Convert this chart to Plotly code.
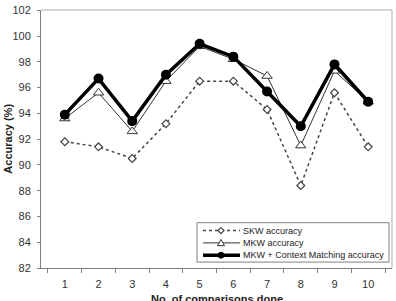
import plotly.graph_objects as go

categories = ["1", "2", "3", "4", "5", "6", "7", "8", "9", "10"]
skw = [91.8, 91.4, 90.5, 93.2, 96.5, 96.5, 94.3, 88.4, 95.6, 91.4]
mkw = [93.6, 95.6, 92.6, 96.5, 99.2, 98.2, 96.9, 91.5, 97.3, 94.9]
mkw_ctx = [93.9, 96.7, 93.4, 97.0, 99.4, 98.4, 95.7, 93.0, 97.8, 94.9]
series_names = ["SKW accuracy", "MKW accuracy", "MKW + Context Matching accuracy"]
y_ticks = [82, 84, 86, 88, 90, 92, 94, 96, 98, 100, 102]

FONT = "Liberation Sans, Arial, sans-serif"
W, H = 396, 301
ML, MR, MT, MB = 41, 4, 6, 33
PW, PH = W - ML - MR, H - MT - MB


def px(x):
    return (x - ML) / PW


def py(y):
    return (H - MB - y) / PH


fig = go.Figure()
fig.add_trace(go.Scatter(
    x=categories, y=skw, mode="lines+markers", name=series_names[0],
    line=dict(color="#444444", width=1.5, dash="dot"),
    marker=dict(symbol="diamond", size=6, color="white", line=dict(color="#444444", width=1.2)),
))
fig.add_trace(go.Scatter(
    x=categories, y=mkw, mode="lines+markers", name=series_names[1],
    line=dict(color="#333333", width=1),
    marker=dict(symbol="triangle-up", size=9, color="white", line=dict(color="#333333", width=1)),
))
fig.add_trace(go.Scatter(
    x=categories, y=mkw_ctx, mode="lines+markers", name=series_names[2],
    line=dict(color="black", width=3.5),
    marker=dict(symbol="circle", size=10, color="black"),
))

# hand-made legend (compact, like the original)
lx0, lx1, ly0, ly1 = 197, 389, 222, 262
rows = [230, 242.5, 255]
s0, s1, sm, tx = 203, 240, 221, 241
shapes = [
    dict(type="line", xref="paper", yref="paper", x0=0, x1=1, y0=1, y1=1,
         line=dict(color="#c8c8c8", width=1.5)),
    dict(type="line", xref="paper", yref="paper", x0=1, x1=1, y0=0, y1=1,
         line=dict(color="#c8c8c8", width=1.5)),
    dict(type="rect", xref="paper", yref="paper", x0=px(lx0), x1=px(lx1), y0=py(ly1), y1=py(ly0),
         line=dict(color="#808080", width=1), fillcolor="white", layer="above"),
    dict(type="line", xref="paper", yref="paper", x0=px(s0), x1=px(s1), y0=py(rows[0]), y1=py(rows[0]),
         line=dict(color="#444444", width=1.5, dash="dot"), layer="above"),
    dict(type="line", xref="paper", yref="paper", x0=px(s0), x1=px(s1), y0=py(rows[1]), y1=py(rows[1]),
         line=dict(color="#333333", width=1), layer="above"),
    dict(type="line", xref="paper", yref="paper", x0=px(s0), x1=px(s1), y0=py(rows[2]), y1=py(rows[2]),
         line=dict(color="black", width=3.5), layer="above"),
]


def diamond(cx, cy, r):
    return "M %f %f L %f %f L %f %f L %f %f Z" % (
        px(cx), py(cy - r), px(cx + r), py(cy), px(cx), py(cy + r), px(cx - r), py(cy))


def triangle(cx, cy, r):
    return "M %f %f L %f %f L %f %f Z" % (
        px(cx), py(cy - r), px(cx + r), py(cy + r * 0.8), px(cx - r), py(cy + r * 0.8))


shapes += [
    dict(type="path", xref="paper", yref="paper", path=diamond(sm, rows[0], 3),
         line=dict(color="#444444", width=1.2), fillcolor="white", layer="above"),
    dict(type="path", xref="paper", yref="paper", path=triangle(sm, rows[1], 3.5),
         line=dict(color="#333333", width=1), fillcolor="white", layer="above"),
    dict(type="circle", xref="paper", yref="paper", x0=px(sm - 3), x1=px(sm + 3),
         y0=py(rows[2] + 3), y1=py(rows[2] - 3),
         line=dict(color="black", width=1), fillcolor="black", layer="above"),
]

annotations = [
    dict(text="<b>Accuracy (%)</b>", xref="paper", yref="paper", x=-0.095, y=0.5,
         xanchor="center", yanchor="middle", textangle=-90, showarrow=False,
         font=dict(size=11, color="#222222", family=FONT)),
    dict(text="<b>No. of comparisons done</b>", xref="paper", yref="paper", x=0.5, y=-0.09,
         xanchor="center", yanchor="top", showarrow=False,
         font=dict(size=11, color="#222222", family=FONT)),
]
for name, ry in zip(series_names, rows):
    annotations.append(dict(text=name, xref="paper", yref="paper", x=px(tx), y=py(ry),
                            xanchor="left", yanchor="middle", showarrow=False,
                            font=dict(size=9, color="#222222", family=FONT)))

fig.update_layout(
    width=W, height=H,
    margin=dict(l=ML, r=MR, t=MT, b=MB),
    paper_bgcolor="white", plot_bgcolor="white",
    font=dict(family=FONT, size=11, color="#333333"),
    showlegend=False,
    xaxis=dict(
        type="category", showgrid=False, zeroline=False,
        showline=True, linecolor="#808080", linewidth=1,
        ticks="outside", tickson="boundaries", ticklen=4, tickcolor="#808080",
        tickfont=dict(size=11, color="#333333"), ticklabelstandoff=6,
    ),
    yaxis=dict(
        range=[82, 102.02], tickvals=y_ticks, showgrid=False, zeroline=False,
        showline=True, linecolor="#808080", linewidth=1,
        ticks="outside", ticklen=3, tickcolor="#808080",
        tickfont=dict(size=11, color="#333333"), ticklabelstandoff=4,
    ),
    shapes=shapes,
    annotations=annotations,
)

fig.write_html("out.html")
